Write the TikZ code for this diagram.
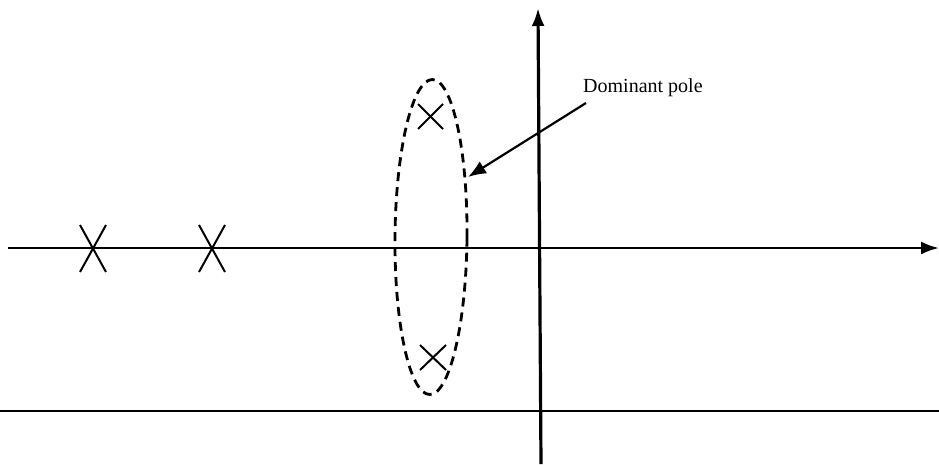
\documentclass[tikz,border=0pt]{standalone}
\usepackage{fontspec}
\setmainfont{Liberation Serif}
\usetikzlibrary{arrows.meta,shapes.geometric}
\begin{document}
\begin{tikzpicture}[x=1pt,y=-1pt,
  axis/.style={-{Latex[length=18pt,width=13pt]}},
  polemark/.style={line width=2pt},
  lbl/.style={font=\fontsize{20}{24}\selectfont, inner sep=0pt}]
\useasboundingbox (0,0) rectangle (939,464);
% coordinates
\coordinate (hl) at (8,248);
\coordinate (hr) at (939,248);
\coordinate (vb) at (541,464);
\coordinate (vt) at (538,8);
\coordinate (bl) at (0,411);
\coordinate (br) at (939,411);
% axes
\draw[axis,line width=2.6pt] (hl) -- (hr);
\draw[axis,line width=3.2pt] (vb) -- (vt);
\draw[line width=1.6pt] (bl) -- (br);
% left poles (tall X)
\foreach \px in {93,212}{
  \draw[polemark] (\px-13,225) -- (\px+13,272);
  \draw[polemark] (\px+13,225) -- (\px-13,272);
}
% dominant poles
\draw[polemark] (418,104) -- (443,129);
\draw[polemark] (443,104) -- (418,129);
\draw[polemark] (420,345) -- (446,370);
\draw[polemark] (446,345) -- (420,370);
% ellipse
\node[draw, dash pattern=on 9pt off 6pt, line width=2.8pt, ellipse, minimum width=72pt, minimum height=315pt, inner sep=0pt, rotate=-0.5] (ell) at (431,237) {};
% label and arrow
\node[lbl, anchor=west] (lab) at (583,88) {Dominant pole};
\coordinate (as) at (586,103);
\coordinate (at) at (468,177);
\draw[line width=2.2pt,-{Latex[length=18pt,width=14pt]}] (as) -- (at);
\end{tikzpicture}
\end{document}
